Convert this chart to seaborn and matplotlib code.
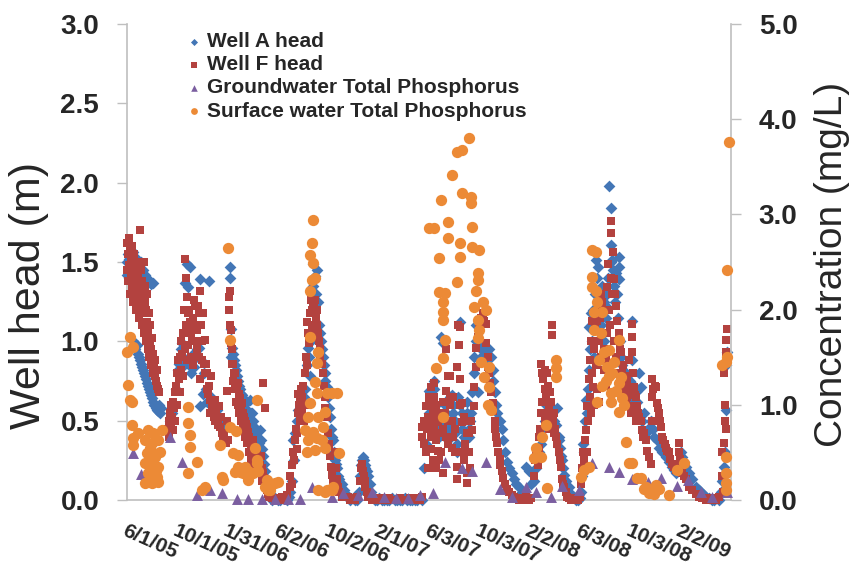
import matplotlib
matplotlib.use("Agg")
import matplotlib.pyplot as plt
import seaborn as sns
import pandas as pd

# ---------------- data (x = days since 6/1/2005) ----------------
date_labels = ["6/1/05", "10/1/05", "1/31/06", "6/2/06", "10/2/06", "2/1/07",
               "6/3/07", "10/3/07", "2/2/08", "6/3/08", "10/3/08", "2/2/09"]

# Well A head (m)
well_a = [
    (0,1.50),(0,1.42),(2,1.55),(5,1.52),(5,1.40),(7,1.45),(10,1.55),(12,1.48),(15,1.00),(15,1.56),(17,0.97),
    (19,1.50),(19,0.95),(22,1.45),(24,0.98),(24,1.52),(27,0.92),(29,1.48),(29,0.90),(31,0.88),(34,1.50),(34,0.86),
    (36,0.84),(39,1.45),(39,0.82),(41,0.80),(44,1.42),(44,0.78),(46,0.76),(48,1.40),(48,0.74),(51,0.72),(53,1.38),
    (53,0.70),(56,0.68),(58,1.36),(58,0.66),(61,0.64),(63,1.37),(63,0.62),(65,0.60),(68,0.60),(70,0.58),(73,0.57),
    (75,0.56),(77,0.60),(80,0.55),(82,0.58),
    (104,0.50),(109,0.55),(114,0.60),(119,0.70),(123,0.82),(126,0.86),(131,0.95),(133,0.99),(136,0.90),(138,0.85),
    (140,1.37),(145,1.49),(148,1.34),(150,0.85),(152,1.47),(155,0.80),(160,0.92),(162,0.84),(167,0.90),(169,0.95),
    (174,0.96),(177,1.39),(177,0.59),(179,0.88),(184,0.67),(186,0.80),(191,0.70),(194,0.62),(198,1.38),(203,0.65),
    (206,0.60),(211,0.55),(215,0.58),(218,0.57),(223,0.50),(227,0.48),(232,0.44),(237,0.45),
    (249,1.47),(249,1.40),(252,1.08),(252,0.90),(254,0.96),(257,0.92),(259,0.88),(261,0.85),(264,0.82),(266,0.78),
    (269,0.75),(271,0.72),(273,0.70),(276,0.67),(278,0.66),(281,0.64),(283,0.60),(286,0.58),(288,0.56),(290,0.55),
    (293,0.53),(295,0.50),(298,0.63),(300,0.55),(303,0.55),(305,0.50),(307,0.46),(310,0.42),(312,0.45),(315,0.40),
    (317,0.38),(319,0.36),(322,0.44),(324,0.38),(327,0.32),(329,0.28),(332,0.23),(334,0.18),(336,0.14),(339,0.10),
    (341,0.08),(344,0.05),(346,0.03),
    (351,0.00),(358,0.01),(365,0.00),(372,0.00),(380,0.01),(387,0.00),(392,0.02),
    (394,0.05),(399,0.12),(402,0.38),(404,0.25),(407,0.42),(411,0.50),(414,0.57),(419,0.55),(424,0.60),(428,0.65),
    (431,0.70),(436,0.85),(438,0.96),(441,0.90),(443,0.78),(445,1.00),(448,1.20),(450,1.49),(452,1.35),(455,1.41),
    (457,1.30),(460,1.45),(462,1.25),(465,1.10),(467,1.05),(470,1.00),(472,0.95),(474,0.90),(477,0.85),(479,0.80),
    (481,0.75),(484,0.71),(486,0.65),(489,0.58),(491,0.52),(494,0.45),(496,0.40),(499,0.38),(501,0.30),(503,0.25),
    (506,0.23),(508,0.20),(511,0.15),(515,0.13),(520,0.10),(525,0.06),(530,0.04),(535,0.02),
    (540,0.00),(547,0.01),(552,0.00),(557,0.00),
    (562,0.05),(564,0.15),(567,0.22),(569,0.25),(571,0.27),(574,0.25),(576,0.22),(578,0.20),(581,0.18),(583,0.15),
    (588,0.10),(591,0.05),(593,0.02),
    (600,0.00),(607,0.00),(612,0.01),(618,0.00),(624,0.00),(630,0.00),(636,0.00),(643,0.01),(649,0.00),(655,0.00),
    (661,0.00),(667,0.00),(673,0.01),(679,0.00),(685,0.00),(691,0.00),(697,0.00),(703,0.00),(709,0.01),(715,0.00),
    (721,0.20),(724,0.35),(726,0.50),(729,0.60),(731,0.55),(733,0.69),(736,0.50),(738,0.61),(741,0.45),(743,0.75),
    (745,0.70),(748,0.60),(750,0.55),(753,0.52),(755,0.45),(757,0.40),(762,1.03),(765,0.99),(767,0.50),(770,0.60),
    (772,0.55),(774,0.62),(777,0.45),(779,0.38),(782,0.50),(784,0.65),(787,0.66),(789,0.60),(791,0.55),(794,0.50),
    (796,0.42),(799,0.35),(801,0.30),(803,0.65),(806,1.12),(808,0.60),(811,0.55),(813,0.45),(816,0.50),(818,0.40),
    (820,0.30),(823,0.62),(825,0.55),(828,0.45),(830,0.40),(832,0.50),(835,0.55),(837,0.68),(840,0.80),(842,0.90),
    (845,1.00),(847,1.10),(850,0.68),(852,1.00),(857,0.90),(859,0.95),(862,0.95),(866,0.88),(871,0.90),(874,0.85),
    (878,0.95),(883,0.90),(886,0.82),(888,0.75),(891,0.68),(895,0.60),(898,0.55),(903,0.50),(908,0.45),(912,0.38),
    (917,0.30),(922,0.24),(927,0.20),(932,0.17),(937,0.13),(944,0.10),(951,0.08),(958,0.05),(963,0.04),(968,0.03),
    (968,0.21),(975,0.18),(980,0.10),(987,0.12),(992,0.20),(999,0.30),(1004,0.35),(1007,0.45),(1012,0.50),(1016,0.60),
    (1021,0.62),(1024,0.60),(1028,0.58),(1031,0.57),(1036,0.50),(1041,0.47),(1043,0.58),(1046,0.40),(1048,0.38),
    (1050,0.33),(1053,0.28),(1055,0.25),(1058,0.20),(1060,0.16),(1065,0.12),(1067,0.08),(1072,0.08),(1077,0.04),
    (1084,0.02),(1089,0.00),(1094,0.00),(1098,0.01),
    (1101,0.05),(1104,0.15),(1106,0.35),(1108,0.30),(1111,0.50),(1113,0.63),(1116,0.55),(1118,0.70),(1120,0.82),
    (1120,1.09),(1123,0.95),(1125,1.18),(1128,1.00),(1130,1.20),(1133,0.90),(1135,1.30),(1137,1.51),(1140,1.40),
    (1142,1.47),(1145,1.30),(1147,1.20),(1150,1.10),(1152,1.35),(1155,1.00),(1157,1.25),(1160,1.15),(1162,1.22),
    (1164,1.30),(1167,1.40),(1169,1.98),(1172,1.50),(1174,1.84),(1174,1.61),(1176,1.51),(1179,1.45),(1181,1.35),
    (1183,1.25),(1186,1.43),(1188,1.30),(1190,1.15),
    (1193,1.53),(1193,1.47),(1193,1.39),(1195,1.00),(1198,0.90),(1200,0.85),(1203,0.82),(1205,0.75),(1208,0.80),
    (1210,0.72),(1212,0.78),(1215,0.70),(1217,0.68),(1220,0.75),(1222,0.65),(1225,1.13),(1225,0.88),(1229,0.72),
    (1234,0.68),(1237,0.62),(1241,0.80),(1246,0.71),(1249,0.50),(1254,0.55),(1258,0.42),(1263,0.45),(1271,0.50),
    (1275,0.45),(1278,0.40),(1285,0.38),(1290,0.33),(1297,0.30),(1307,0.27),(1314,0.24),(1321,0.21),(1326,0.19),
    (1331,0.17),(1338,0.24),(1343,0.30),(1346,0.27),(1350,0.24),(1355,0.21),(1362,0.17),(1370,0.13),(1379,0.08),
    (1387,0.06),(1392,0.05),(1399,0.03),(1404,0.02),(1411,0.01),
    (1418,0.00),(1423,0.00),(1428,0.01),(1435,0.00),
    (1440,0.05),(1442,0.12),(1447,0.21),(1452,0.57),(1449,0.30),(1454,0.93),(1452,0.85),
]

# Well F head (m)
well_f = [
    (0,1.45),(0,1.62),(2,1.55),(2,1.38),(5,1.65),(5,1.48),(7,1.30),(7,1.58),(10,1.42),(10,1.52),(12,1.35),(12,1.60),
    (15,1.45),(15,1.25),(17,1.55),(17,1.38),(19,1.50),(19,1.30),(22,1.42),(22,1.20),(24,1.48),(24,1.33),(27,1.40),
    (27,1.25),(29,1.50),(29,1.15),(31,1.70),(31,1.35),(34,1.45),(34,1.22),(36,1.38),(36,1.10),(39,1.30),(39,1.18),
    (41,1.50),(41,1.05),(44,1.25),(44,1.35),(46,1.20),(46,1.00),(48,1.12),(48,1.30),(51,1.05),(51,0.95),(53,1.18),
    (53,0.90),(56,1.00),(56,1.10),(58,0.85),(58,0.95),(61,0.90),(61,1.02),(63,0.80),(63,0.92),(65,0.85),(68,0.78),
    (68,0.88),(70,0.75),(73,0.72),(73,0.82),(75,0.70),(77,0.68),
    (99,0.45),(102,0.50),(102,0.40),(104,0.55),(106,0.48),(106,0.60),(109,0.52),(111,0.62),(111,0.44),(114,0.58),
    (116,0.68),(116,0.50),(119,0.72),(121,0.80),(121,0.60),(123,0.88),(126,0.76),(128,0.90),(128,0.68),(131,1.00),
    (131,0.82),(133,0.92),(136,1.05),(136,0.78),(138,1.20),(140,1.52),(140,0.95),(143,1.40),(143,1.10),(145,1.28),
    (145,0.88),(148,1.18),(148,0.98),(150,1.20),(150,1.08),(152,1.12),(155,1.05),(155,0.90),(157,1.00),(160,1.15),
    (160,0.85),(162,1.26),(165,1.22),(165,1.00),(167,1.10),(169,1.07),(169,0.95),(172,1.22),(174,1.18),(174,0.90),
    (177,1.32),(177,0.76),(179,1.10),(182,1.00),(182,0.88),(184,1.18),(186,0.86),(189,1.01),(189,0.80),(191,0.86),
    (194,0.80),(194,0.70),(196,0.67),(198,0.72),(201,0.63),(201,0.55),(203,0.78),(206,0.60),(208,0.59),(211,0.52),
    (213,0.63),(213,0.50),(215,0.56),(218,0.50),(220,0.47),(223,0.59),(225,0.46),(227,0.52),(230,0.42),(232,0.40),
    (235,0.42),(237,0.38),(240,0.36),(242,0.69),(242,0.50),(244,0.38),
    (247,1.28),(247,1.20),(249,1.32),(249,1.10),(252,1.07),(252,0.99),(254,0.95),(254,0.86),(257,0.86),(257,0.75),
    (259,0.80),(261,0.80),(261,0.70),(264,0.74),(264,0.62),(266,0.72),(269,0.74),(269,0.60),(271,0.67),(271,0.55),
    (273,0.64),(276,0.60),(276,0.50),(278,0.61),(281,0.55),(281,0.45),(283,0.52),(286,0.50),(286,0.40),(288,0.48),
    (290,0.46),(290,0.36),(293,0.43),(295,0.40),(295,0.30),(298,0.38),(300,0.34),(300,0.25),(303,0.30),(305,0.38),
    (307,0.28),(307,0.20),(310,0.33),(312,0.25),(315,0.30),(315,0.18),(317,0.26),(322,0.22),(324,0.28),(327,0.20),
    (327,0.12),(329,0.74),(329,0.17),(332,0.14),(334,0.58),(334,0.10),(336,0.08),(339,0.06),(341,0.04),(344,0.02),
    (346,0.02),(351,0.01),(358,0.00),(363,0.01),(370,0.00),(375,0.02),(382,0.00),(387,0.03),
    (394,0.08),(396,0.15),(399,0.22),(399,0.10),(402,0.30),(404,0.25),(407,0.38),(409,0.45),(411,0.42),(411,0.32),
    (414,0.55),(414,0.67),(416,0.60),(419,0.50),(419,0.62),(421,0.70),(424,0.55),(424,0.65),(426,0.72),(428,0.50),
    (431,0.80),(431,0.60),(433,0.90),(436,1.12),(436,0.85),(438,1.05),(440,0.99),(443,1.18),(443,1.05),(445,1.26),
    (448,1.20),(448,1.10),(450,1.25),(453,1.22),(455,1.18),(455,1.26),(457,1.15),(460,1.20),(460,1.10),(462,1.05),
    (465,1.00),(467,0.95),(469,0.90),(472,0.86),(474,0.80),(477,0.72),(479,0.65),(481,0.58),(484,0.52),(486,0.42),
    (489,0.35),(491,0.28),(494,0.21),(496,0.16),(499,0.11),(501,0.08),(503,0.30),(506,0.20),(508,0.13),(511,0.08),
    (515,0.05),(520,0.02),
    (535,0.02),(540,0.00),(547,0.01),(552,0.00),(557,0.02),(564,0.12),(566,0.20),(569,0.23),(571,0.18),(574,0.15),
    (576,0.12),(578,0.08),(581,0.05),(583,0.02),
    (595,0.00),(600,0.01),(607,0.00),(612,0.00),(618,0.01),(624,0.00),(630,0.00),(636,0.01),(643,0.00),(649,0.00),
    (655,0.00),(661,0.01),(667,0.00),(673,0.00),(679,0.00),(685,0.01),(691,0.00),(697,0.00),(703,0.01),(709,0.00),
    (715,0.02),
    (716,0.46),(716,0.40),(719,0.35),(721,0.50),(724,0.59),(724,0.30),(726,0.45),(729,0.52),(729,0.20),(731,0.65),
    (733,0.48),(733,0.60),(736,0.40),(738,0.71),(738,0.32),(741,0.55),(741,0.25),(743,0.65),(745,0.74),(745,0.45),
    (748,0.50),(748,0.20),(750,0.60),(750,0.38),(753,0.49),(753,0.31),(755,0.42),(757,0.25),(760,0.55),(762,0.30),
    (765,0.17),(765,0.45),(767,0.62),(770,0.55),(772,0.40),(774,0.69),(774,0.95),(777,0.78),(777,0.35),(779,0.50),
    (782,0.78),(782,0.60),(784,0.65),(787,0.50),(787,0.33),(789,0.65),(791,0.40),(794,0.30),(796,0.45),(799,0.21),
    (799,0.13),(801,0.84),(803,1.10),(804,0.98),(806,1.09),(806,0.76),(808,0.60),(811,0.49),(811,0.30),(813,0.61),
    (816,0.25),(818,0.52),(820,0.35),(823,0.17),(823,0.42),(825,0.11),(828,0.50),(830,0.42),(830,0.30),(832,0.20),
    (835,0.50),(837,0.44),(840,0.59),(842,0.71),(845,0.84),(847,0.96),(850,1.03),(852,1.09),(857,1.15),(862,1.18),
    (866,1.13),(869,1.11),(871,0.99),(874,0.90),(876,0.84),(878,0.80),(881,0.74),(883,0.68),(886,0.61),(888,0.56),
    (891,0.50),(893,0.45),(895,0.40),(898,0.36),(900,0.30),(903,0.26),(905,0.22),(908,0.18),(912,0.14),(917,0.10),
    (922,0.07),(927,0.05),(932,0.03),(939,0.02),(946,0.01),(951,0.00),
    (956,0.01),(963,0.00),(968,0.02),(975,0.00),(980,0.01),
    (987,0.15),(990,0.25),(992,0.30),(995,0.22),(999,0.33),(999,0.40),(1002,0.45),(1004,0.86),(1004,0.55),(1007,0.80),
    (1007,0.62),(1009,0.76),(1012,0.70),(1012,0.50),(1014,0.82),(1016,0.65),(1019,0.80),(1019,0.55),(1021,0.72),
    (1024,0.60),(1024,0.45),(1026,0.68),(1028,0.62),(1031,1.10),(1031,1.04),(1031,0.55),(1033,0.50),(1036,0.55),
    (1036,0.42),(1038,0.45),(1041,0.40),(1043,0.35),(1046,0.30),(1048,0.30),(1050,0.25),(1053,0.21),(1055,0.13),
    (1058,0.10),(1060,0.08),(1065,0.05),(1067,0.02),
    (1072,0.01),(1077,0.00),(1084,0.01),(1089,0.00),(1094,0.00),(1098,0.02),
    (1101,0.10),(1104,0.20),(1106,0.30),(1108,0.25),(1111,0.38),(1113,0.44),(1116,0.30),(1116,0.59),(1118,0.50),
    (1120,0.76),(1120,0.21),(1123,0.88),(1123,0.65),(1125,1.00),(1125,0.55),(1128,1.13),(1128,0.80),(1130,0.71),
    (1133,0.95),(1133,0.60),(1135,1.09),(1137,0.85),(1140,1.13),(1140,0.70),(1142,1.22),(1145,1.00),(1145,0.62),
    (1147,1.15),(1150,1.30),(1150,0.90),(1152,1.25),(1155,0.82),(1157,1.20),(1157,0.95),(1160,0.72),(1162,0.88),
    (1164,1.34),(1164,1.05),(1167,1.49),(1169,1.20),(1171,1.10),(1174,1.76),(1174,1.68),(1174,1.40),(1176,1.30),
    (1179,1.56),(1181,1.39),(1181,1.00),(1183,1.30),(1186,1.22),(1186,0.90),(1188,1.13),(1190,1.00),(1193,1.05),
    (1193,0.80),(1195,0.95),(1198,0.93),(1198,0.75),(1200,0.80),(1203,0.85),(1205,0.70),(1207,0.78),
    (1210,0.71),(1210,0.60),(1212,0.76),(1212,0.65),(1215,0.70),(1217,0.88),(1217,0.59),(1220,0.70),(1222,0.55),
    (1225,1.11),(1225,1.03),(1225,0.93),(1227,0.80),(1229,0.71),(1232,0.66),(1234,0.65),(1234,0.50),(1237,0.59),
    (1239,0.55),(1241,0.52),(1244,0.50),(1246,0.50),(1249,0.44),(1251,0.40),(1254,0.42),(1258,0.38),(1261,0.31),
    (1266,0.27),(1271,0.23),(1273,0.76),(1273,0.65),(1273,0.50),(1276,0.70),(1280,0.72),(1283,0.71),(1285,0.61),
    (1288,0.58),(1290,0.55),(1293,0.50),(1295,0.46),(1297,0.40),(1300,0.38),(1304,0.35),(1307,0.33),(1310,0.31),
    (1314,0.30),(1317,0.26),(1321,0.23),(1326,0.21),(1331,0.19),(1338,0.36),(1338,0.30),(1341,0.26),(1343,0.23),
    (1346,0.17),(1350,0.15),(1355,0.13),(1362,0.08),(1370,0.06),(1379,0.04),(1387,0.02),(1394,0.01),
    (1399,0.01),(1404,0.00),(1411,0.00),(1418,0.01),(1423,0.00),(1428,0.00),(1435,0.02),
    (1442,0.30),(1447,0.36),(1442,0.15),(1449,0.50),(1447,0.80),(1452,0.93),(1452,1.01),(1454,1.08),(1452,0.45),
    (1445,0.05),(1450,0.60),
]

# Groundwater Total Phosphorus (mg/L)
gw_tp = [
    (15,0.49),(34,0.27),(104,0.66),(133,0.40),(169,0.05),(201,0.10),(230,0.07),(266,0.01),(293,0.01),(327,0.01),
    (358,0.01),(390,0.01),(419,0.01),(448,0.14),(496,0.03),(523,0.07),(559,0.05),(593,0.08),(624,0.03),(653,0.02),
    (680,0.02),(709,0.05),(741,0.07),(770,0.40),(811,0.34),(837,0.30),(871,0.40),(903,0.12),(932,0.03),(968,0.14),
    (992,0.08),(1028,0.03),(1055,0.15),(1096,0.10),(1128,0.39),(1169,0.35),(1193,0.29),(1225,0.22),(1263,0.19),
    (1295,0.23),(1333,0.15),(1360,0.21),(1392,0.08),(1418,0.03),(1454,0.08),
]

# Surface water Total Phosphorus (mg/L)
sw_tp = [
    (0,1.55),(2,1.21),(7,1.71),(7,1.05),(12,1.03),(12,0.79),(15,1.61),(15,0.65),(15,0.58),(27,0.70),(51,0.74),
    (63,0.70),(85,0.74),(44,0.63),(61,0.60),(75,0.63),(48,0.49),(63,0.49),(80,0.50),(44,0.39),(61,0.39),(75,0.35),
    (51,0.28),(73,0.24),(75,0.19),(61,0.18),(44,0.18),(56,0.55),(68,0.45),(56,0.30),(70,0.30),(53,0.42),(65,0.25),
    (148,0.98),(148,0.81),(152,0.68),(152,0.56),(169,0.40),(148,0.28),(182,0.10),(189,0.14),(225,0.58),(230,0.24),
    (232,0.21),
    (244,2.65),(249,1.68),(249,0.77),(257,0.49),(264,0.72),(269,0.47),(261,0.29),(273,0.29),(269,0.35),(281,0.28),
    (286,0.35),(293,0.30),(293,0.21),(305,0.28),(315,0.42),(315,0.39),(317,0.30),(315,1.05),(310,0.55),(334,0.14),
    (339,0.21),(341,0.10),(346,0.10),(358,0.18),(365,0.19),
    (450,2.94),(448,2.70),(443,2.57),(450,2.49),(448,2.31),(455,2.33),(443,2.20),(443,1.71),(462,1.55),(460,1.44),
    (455,1.24),(460,1.12),(484,1.12),(479,0.92),(443,1.02),(438,0.87),(462,0.87),(450,0.71),(431,0.74),(474,0.77),
    (460,0.65),(438,0.63),(472,0.63),(436,0.50),(455,0.53),(479,0.55),(462,0.10),(479,0.08),(496,0.10),(496,1.12),
    (508,1.12),(515,0.49),(499,0.14),(484,0.10),
    (750,1.39),(830,3.80),(811,3.68),(801,3.66),(787,3.41),(811,3.22),(835,3.18),(835,3.12),(762,3.15),(733,2.86),
    (745,2.86),(777,2.92),(777,2.75),(806,2.70),(837,2.87),(837,2.66),(854,2.63),(757,2.54),(806,2.55),(801,2.29),
    (850,2.38),(850,2.31),(757,2.18),(770,2.17),(765,2.08),(765,1.97),(765,1.89),(847,2.20),(842,2.03),(862,2.08),
    (871,2.00),(850,1.89),(854,1.79),(850,1.70),(770,1.68),(765,1.49),(859,1.45),(878,1.40),(866,1.29),(878,1.19),
    (874,1.00),(883,0.95),(765,0.87),
    (1041,1.47),(1041,1.39),(1041,1.29),(1016,0.79),(1007,0.66),(992,0.55),(1004,0.45),(987,0.44),(1019,0.13),
    (1101,0.24),(1108,0.32),(1120,0.35),(1128,2.63),(1137,2.60),(1128,2.34),(1128,2.24),(1137,2.20),(1140,2.08),
    (1133,1.97),(1152,1.97),(1133,1.79),(1149,1.75),(1169,1.58),(1145,1.47),(1164,1.40),(1176,1.33),(1193,1.68),
    (1140,1.03),(1174,1.12),(1174,1.03),(1193,1.23),(1193,0.92),(1210,0.61),(1217,0.39),(1198,1.29),(1200,1.07),
    (1205,1.00),(1225,0.39),(1237,0.23),(1246,0.23),(1258,0.14),(1273,0.10),(1283,0.16),(1314,0.05),(1333,0.32),
    (1350,0.39),(1157,1.55),(1181,1.45),(1162,1.25),(1186,1.15),(1152,1.20),(1169,1.30),(1266,0.07),(1290,0.12),
    (1254,0.12),(1278,0.06),
    (1459,3.76),(1454,2.42),(1442,1.42),(1452,1.45),(1454,1.50),(1452,0.45),(1452,0.28),(1452,0.18),(1452,0.10),
]

# ---------------- build tables ----------------
def frame(pairs, col):
    return pd.DataFrame(pairs, columns=["day", col])

df_a = frame(well_a, "head")
df_f = frame(well_f, "head")
df_gw = frame(gw_tp, "conc")
df_sw = frame(sw_tp, "conc")

# ---------------- style ----------------
sns.set_style("white")
plt.rcParams["font.family"] = ["Liberation Sans", "DejaVu Sans"]

c_blue, c_red, c_purple, c_orange = "#4376B6", "#B3423F", "#7B5EA0", "#EC8A36"
gray = "#BFBFBF"

fig = plt.figure(figsize=(8.54, 5.71), dpi=100)
ax = fig.add_axes([127 / 854, 1 - 500 / 571, 604 / 854, 476 / 571])
ax2 = ax.twinx()

sns.scatterplot(data=df_a, x="day", y="head", ax=ax, marker="D", s=36, color=c_blue,
                linewidth=0, label="Well A head", clip_on=False, zorder=3)
sns.scatterplot(data=df_f, x="day", y="head", ax=ax, marker="s", s=40, color=c_red,
                linewidth=0, label="Well F head", clip_on=False, zorder=4)
sns.scatterplot(data=df_gw, x="day", y="conc", ax=ax2, marker="^", s=62, color=c_purple,
                linewidth=0, label="Groundwater Total Phosphorus", clip_on=False, zorder=3)
sns.scatterplot(data=df_sw, x="day", y="conc", ax=ax2, marker="o", s=66, color=c_orange,
                linewidth=0, label="Surface water Total Phosphorus", clip_on=False, zorder=4)

for a in (ax, ax2):
    lg = a.get_legend()
    if lg is not None:
        lg.remove()

ax.set_xlim(0, 1464)
ax.set_ylim(0, 3)
ax2.set_ylim(0, 5)

ax.set_yticks([0, 0.5, 1, 1.5, 2, 2.5, 3])
ax.set_yticklabels(["0.0", "0.5", "1.0", "1.5", "2.0", "2.5", "3.0"], fontsize=20, fontweight="bold")
ax2.set_yticks([0, 1, 2, 3, 4, 5])
ax2.set_yticklabels(["0.0", "1.0", "2.0", "3.0", "4.0", "5.0"], fontsize=20, fontweight="bold")

ax.set_xticks([122 * i for i in range(13)])
ax.set_xticklabels(date_labels + [""], rotation=-24, ha="left", va="top",
                   rotation_mode="anchor", fontsize=15, fontweight="bold")

ax.tick_params(axis="y", direction="out", length=7, width=1, color=gray, pad=13)
ax.tick_params(axis="x", direction="out", length=6, width=1, color=gray, pad=9)
ax2.tick_params(axis="y", direction="out", length=7, width=1, color=gray, pad=13)

for a in (ax, ax2):
    a.spines["top"].set_visible(False)
ax.spines["right"].set_visible(False)
ax2.spines["left"].set_visible(False)
ax2.spines["bottom"].set_visible(False)
ax.spines["left"].set_color(gray)
ax.spines["bottom"].set_color(gray)
ax2.spines["right"].set_color(gray)
for a in (ax, ax2):
    for sp in a.spines.values():
        sp.set_linewidth(1.2)
ax.set_xlabel("")

ax.set_ylabel("Well head (m)", fontsize=31)
ax.yaxis.label.set_verticalalignment("center")
ax.yaxis.set_label_coords(-0.162, 0.43)
ax2.set_ylabel("Concentration (mg/L)", fontsize=28)
ax2.yaxis.label.set_verticalalignment("center")
ax2.yaxis.set_label_coords(1.167, 0.494)

h1, l1 = ax.get_legend_handles_labels()
h2, l2 = ax2.get_legend_handles_labels()
leg = ax2.legend(h1 + h2, l1 + l2, loc="upper left", bbox_to_anchor=(0.083, 1.005),
                 frameon=False, prop={"weight": "bold", "size": 15},
                 handlelength=0.6, handletextpad=0.35, labelspacing=0.2,
                 borderpad=0.0, markerscale=0.6)

fig.savefig("out.png", dpi=100)
